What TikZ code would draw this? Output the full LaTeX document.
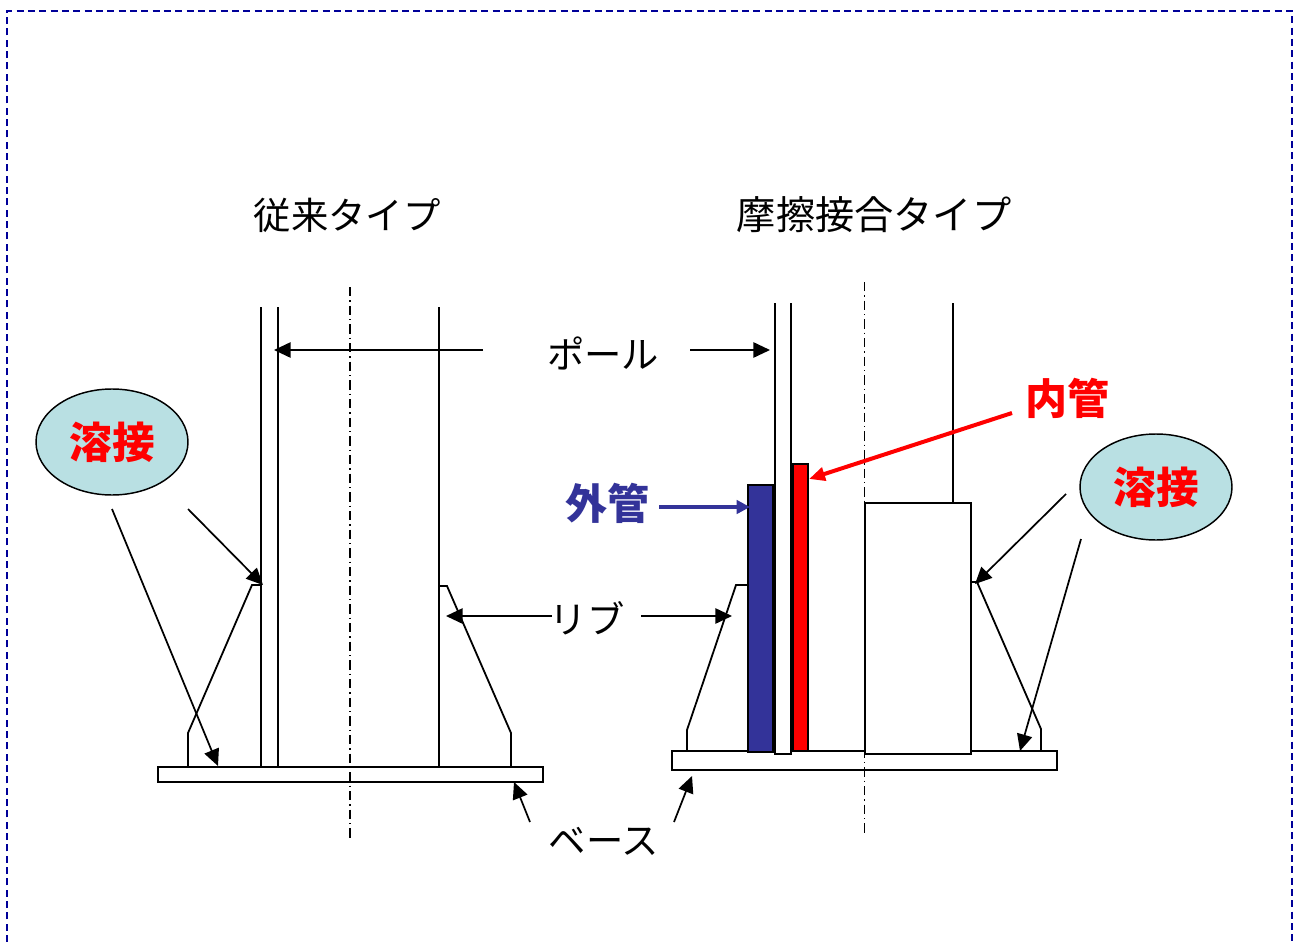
\documentclass[tikz,border=0pt]{standalone}
\usepackage{fontspec}
\setmainfont{Noto Sans CJK JP}
\usetikzlibrary{arrows.meta,shapes.geometric}
\definecolor{framec}{HTML}{000099}
\definecolor{outerc}{HTML}{333399}
\definecolor{weldc}{HTML}{B9E0E3}
\tikzset{
  x=0.75pt,y=-0.75pt,
  ln/.style={line width=1.35pt,black},
  plate/.style={ln,fill=white},
  axisline/.style={line width=1.2pt,black,dash pattern=on 7pt off 3pt on 1pt off 3pt},
  arr/.style={line width=1.3pt,black,-{Triangle[length=12.5pt,width=11.5pt]}},
  framel/.style={line width=1.3pt,framec,dash pattern=on 5.2pt off 3.3pt},
  title/.style={font=\fontsize{28}{30}\selectfont,inner sep=0pt},
  titlewide/.style={font=\fontsize{29.4}{30}\selectfont,inner sep=0pt},
  lab/.style={font=\fontsize{28}{30}\selectfont,inner sep=0pt},
  boldlab/.style={font=\bfseries\fontsize{31.5}{32}\selectfont,inner sep=0pt},
  weld/.style={draw=black,line width=1.1pt,fill=weldc,ellipse,minimum width=114pt,minimum height=79.5pt,inner sep=0pt,font=\bfseries\fontsize{32}{32}\selectfont,text=red}
}
\begin{document}
\begin{tikzpicture}
\useasboundingbox (0,0) rectangle (1303,942);
\draw[framel] (7,942) -- (7,11) -- (1292,11) -- (1292,942);

% titles
\node[title] (t1) at (347,215) {従来タイプ};
\node[titlewide] (t2) at (874,215) {摩擦接合タイプ};

% left structure
\draw[ln] (261,307) -- (261,767);
\draw[ln] (278,307) -- (278,767);
\draw[ln] (439,307) -- (439,767);
\draw[ln] (261,585) -- (252,585) -- (188,733) -- (188,767);
\draw[ln] (439,586) -- (447,586) -- (511,733) -- (511,767);
\node[plate,draw,minimum width=289pt,minimum height=11.3pt,inner sep=0pt] (baseL) at (350.5,774.5) {};
\draw[axisline] (350,287) -- (350,838);

% right structure
\draw[ln] (953,303) -- (953,503);
\draw[ln] (747,585) -- (736,585) -- (687,730) -- (687,751);
\draw[ln] (971,582) -- (977,582) -- (1041,729) -- (1041,751);
\node[plate,draw,minimum width=289pt,minimum height=14.2pt,inner sep=0pt] (baseR) at (864.5,760.5) {};
\draw[plate] (775,303) -- (775,754) -- (791,754) -- (791,303);
\node[draw,ln,fill=outerc,minimum width=19pt,minimum height=200pt,inner sep=0pt] (outer) at (760.5,618.5) {};
\node[draw,ln,fill=red,minimum width=11.5pt,minimum height=215.5pt,inner sep=0pt] (inner) at (800.5,607.5) {};
\node[draw,ln,fill=white,minimum width=80pt,minimum height=188.5pt,inner sep=0pt] (sleeve) at (918,628.5) {};
\draw[axisline] (864.5,282) -- (864.5,835);

% labels
\node[lab] (pole) at (603,353) {ポール};
\node[lab] (rib) at (587,618) {リブ};
\node[lab] (base) at (604,841) {ベース};
\node[boldlab,text=red] (innerl) at (1067,398) {内管};
\node[boldlab,text=outerc] (outerl) at (607,503) {外管};
\node[weld] (weldL) at (112,442) {溶接};
\node[weld] (weldR) at (1156,487) {溶接};

% connector ends
\coordinate (pa) at (483,350); \coordinate (pb) at (274,350);
\coordinate (pc) at (690,350); \coordinate (pd) at (770,350);
\coordinate (ra) at (552,616); \coordinate (rb) at (446,616);
\coordinate (rc) at (641,616); \coordinate (rd) at (732,616);
\coordinate (ba) at (530,822); \coordinate (bb) at (514,782);
\coordinate (bc) at (674,822); \coordinate (bd) at (692,776);
\coordinate (wa) at (112,509); \coordinate (wb) at (218,766);
\coordinate (wc) at (188,509); \coordinate (wd) at (263,585);
\coordinate (we) at (1066,494); \coordinate (wf) at (975,584);
\coordinate (wg) at (1081,539); \coordinate (wh) at (1020,751);
\coordinate (ia) at (1012,413); \coordinate (ib) at (809,479);
\coordinate (oa) at (659,507); \coordinate (ob) at (750,507);

\draw[arr] (pa) -- (pb);
\draw[arr] (pc) -- (pd);
\draw[arr] (ra) -- (rb);
\draw[arr] (rc) -- (rd);
\draw[arr] (ba) -- (bb);
\draw[arr] (bc) -- (bd);
\draw[arr] (wa) -- (wb);
\draw[arr] (wc) -- (wd);
\draw[arr] (we) -- (wf);
\draw[arr] (wg) -- (wh);
\draw[arr,red,line width=3pt,-{Triangle[length=12pt,width=10pt]}] (ia) -- (ib);
\draw[arr,outerc,line width=3pt,-{Triangle[length=10pt,width=10pt]}] (oa) -- (ob);
\end{tikzpicture}
\end{document}
